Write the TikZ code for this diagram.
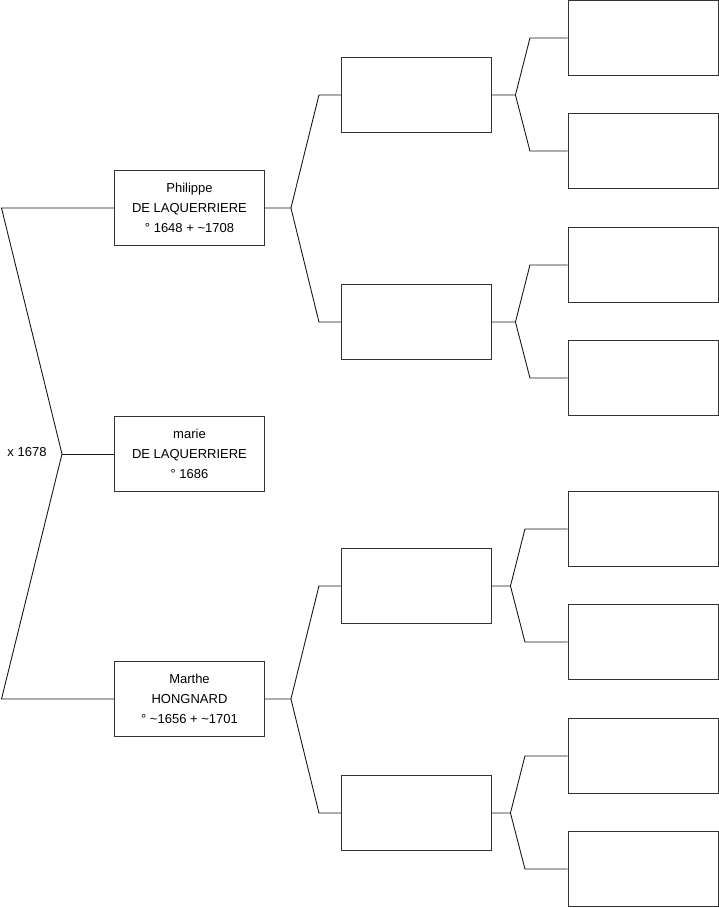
\documentclass[tikz,border=0pt]{standalone}
\usepackage{fontspec}
\setmainfont{Liberation Sans}
\begin{document}
\begin{tikzpicture}[x=1pt,y=-1pt,
  every node/.style={font=\fontsize{13}{20}\selectfont},
  person/.style={draw=black!80,line width=0.9pt,minimum width=150pt,minimum height=75pt,align=center,inner sep=0pt},
  link/.style={draw=black!90,line width=0.9pt}]
\useasboundingbox (0,0) rectangle (719,908);
% Generation 1
\node[person] (p) at (189.5,208) {Philippe\\DE LAQUERRIERE\\° 1648 + \textasciitilde1708};
\node[person] (c) at (189.5,454) {marie\\DE LAQUERRIERE\\° 1686};
\node[person] (h) at (189.5,699) {Marthe\\HONGNARD\\° \textasciitilde1656 + \textasciitilde1701};
% Generation 2
\node[person] (pf) at (416.5,95) {};
\node[person] (pm) at (416.5,322) {};
\node[person] (hf) at (416.5,586) {};
\node[person] (hm) at (416.5,813) {};
% Generation 3
\node[person] (pff) at (643,38) {};
\node[person] (pfm) at (643,151) {};
\node[person] (pmf) at (643,265) {};
\node[person] (pmm) at (643,378) {};
\node[person] (hff) at (643,529) {};
\node[person] (hfm) at (643,642) {};
\node[person] (hmf) at (643,756) {};
\node[person] (hmm) at (643,869) {};
% Marriage
\coordinate (mt) at (1.5,208);
\coordinate (mx) at (62,454);
\coordinate (mb) at (1.5,699);
\node (x) at (27,452) {x 1678};
\draw[link] (p.west) -- (mt) -- (mx) -- (mb) -- (h.west);
\draw[link] (mx) -- (c.west);
% Parents of Philippe and Marthe
\foreach \a/\b/\d in {p/pf/pm,h/hf/hm} {
  \draw[link] (\a.east) -- ++(26,0) coordinate (j\a) -- ([xshift=28pt]j\a |- \b) -- (\b.west);
  \draw[link] (j\a) -- ([xshift=28pt]j\a |- \d) -- (\d.west);
}
% Grandparents
\foreach \a/\b/\d/\s in {pf/pff/pfm/23.5,pm/pmf/pmm/23.5,hf/hff/hfm/18.5,hm/hmf/hmm/18.5} {
  \draw[link] (\a.east) -- ++(\s,0) coordinate (j\a) -- ([xshift=14.5pt]j\a |- \b) -- (\b.west);
  \draw[link] (j\a) -- ([xshift=14.5pt]j\a |- \d) -- (\d.west);
}
\end{tikzpicture}
\end{document}
